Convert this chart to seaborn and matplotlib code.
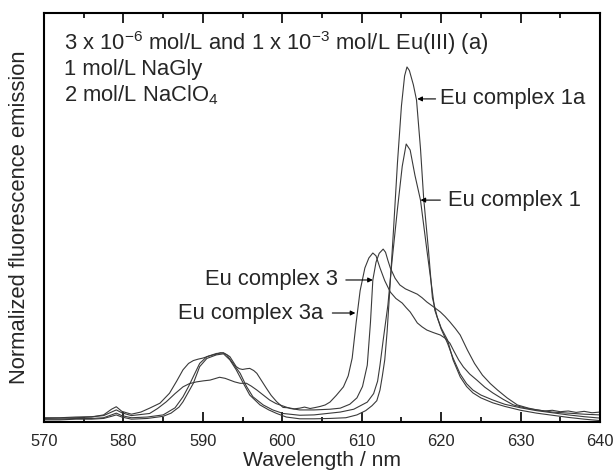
import matplotlib
matplotlib.use("Agg")
import matplotlib.pyplot as plt
import seaborn as sns
import pandas as pd
from matplotlib.ticker import MultipleLocator

# wavelength (nm) / normalized emission
wl_1a = [570, 572, 574, 576, 577.5, 578.5, 579.1, 579.8, 581, 583, 585, 586, 587, 587.5, 588.2, 588.8,
         589.6, 590.5, 591.7, 592.6, 593.4, 594.2, 595.1, 595.9, 597.2, 598.3, 599.3, 600.5, 602.2, 604,
         606, 608, 609.4, 610.5, 611.3, 611.9, 612.3, 612.6, 612.9, 613.2, 613.5, 614.0, 614.5, 615.0,
         615.4, 615.7, 616.0, 616.5, 616.9, 617.4, 617.8, 618.4, 618.9, 619.5, 620.0, 620.8, 621.5, 622.4,
         623.2, 624.0, 625.0, 626.5, 628, 630, 632, 634, 636, 638, 640]
em_1a = [0.006, 0.006, 0.008, 0.008, 0.010, 0.016, 0.020, 0.014, 0.008, 0.010, 0.016, 0.025, 0.042, 0.057, 0.085, 0.109,
         0.156, 0.179, 0.189, 0.192, 0.175, 0.147, 0.109, 0.076, 0.048, 0.034, 0.024, 0.014, 0.009, 0.009,
         0.010, 0.012, 0.020, 0.032, 0.046, 0.060, 0.090, 0.130, 0.175, 0.255, 0.360, 0.540, 0.730, 0.890,
         0.975, 1.000, 0.990, 0.950, 0.907, 0.770, 0.630, 0.485, 0.350, 0.296, 0.265, 0.231, 0.175, 0.127,
         0.100, 0.082, 0.068, 0.054, 0.044, 0.033, 0.025, 0.019, 0.013, 0.008, 0.004]

wl_1 = [570, 572, 574, 576, 577.5, 578.5, 579.1, 579.8, 581, 583, 585, 586.5, 587.5, 588.2, 588.8, 589.6,
        590.5, 591.7, 592.6, 593.0, 593.8, 594.7, 595.5, 596.3, 597.6, 598.8, 600.1, 602.2, 604, 607.3,
        609, 610.7, 611.5, 612.0, 612.3, 612.7, 613.3, 613.8, 614.5, 615.1, 615.6, 616.1, 616.7, 617.4,
        618.2, 619.2, 620.0, 620.8, 621.5, 622.4, 623.2, 624.0, 625, 626.5, 628, 630, 632, 634, 636, 638, 640]
em_1 = [0.008, 0.008, 0.010, 0.010, 0.012, 0.020, 0.025, 0.018, 0.012, 0.014, 0.020, 0.040, 0.071, 0.100, 0.128, 0.165,
        0.184, 0.193, 0.195, 0.189, 0.165, 0.137, 0.100, 0.071, 0.048, 0.034, 0.024, 0.019, 0.020, 0.028,
        0.036, 0.056, 0.080, 0.115, 0.160, 0.230, 0.330, 0.450, 0.600, 0.720, 0.783, 0.766, 0.695, 0.625,
        0.485, 0.315, 0.262, 0.222, 0.180, 0.135, 0.108, 0.090, 0.076, 0.062, 0.050, 0.040, 0.032, 0.026, 0.020, 0.015, 0.011]

wl_3 = [570, 572, 574, 576, 577.5, 578.5, 579.1, 579.8, 581, 583.3, 584.3, 585.4, 586.5, 587.5, 588.3, 589.2,
        590.1, 590.9, 591.5, 592.1, 592.8, 593.4, 594.0, 594.7, 595.5, 596.1, 596.8, 597.6, 598.4, 599.2,
        600.1, 601, 602.2, 604, 606, 607.3, 608.5, 609.4, 610.1, 610.7, 611.1, 611.4, 611.8, 612.2, 612.7,
        613.0, 613.3, 613.6, 614.2, 614.8, 615.5, 616.2, 617.0, 617.6, 618.2, 619.0, 619.9, 620.5, 621.1,
        621.8, 622.4, 623.3, 624.2, 625.2, 626.2, 627.1, 628.3, 629.6, 631, 632.1, 634, 636, 638, 640]
em_3 = [0.012, 0.012, 0.014, 0.015, 0.018, 0.028, 0.034, 0.026, 0.018, 0.024, 0.038, 0.057, 0.080, 0.099, 0.108, 0.113,
        0.116, 0.118, 0.122, 0.126, 0.123, 0.118, 0.113, 0.109, 0.109, 0.101, 0.090, 0.076, 0.062, 0.052,
        0.045, 0.038, 0.034, 0.034, 0.036, 0.039, 0.050, 0.068, 0.100, 0.160, 0.280, 0.400, 0.450, 0.475, 0.487,
        0.478, 0.455, 0.434, 0.405, 0.386, 0.375, 0.368, 0.360, 0.350, 0.338, 0.325, 0.310, 0.297, 0.282,
        0.263, 0.245, 0.203, 0.165, 0.132, 0.108, 0.090, 0.068, 0.048, 0.039, 0.034, 0.028, 0.025, 0.022, 0.020]

wl_3a = [570, 572, 574, 576, 577.5, 578.5, 579.1, 579.8, 581, 582.2, 583.3, 584.6, 585.8, 586.7, 587.5, 588.2,
         588.8, 589.4, 590.0, 590.8, 591.7, 592.2, 592.6, 593.0, 593.4, 593.8, 594.2, 594.6, 595.0, 595.5,
         595.9, 596.4, 596.8, 597.4, 598.0, 598.6, 599.3, 600.1, 600.8, 601.5, 602.2, 602.8, 603.5, 604.2,
         604.8, 605.4, 606.0, 606.8, 607.7, 608.3, 608.8, 609.3, 609.8, 610.4, 610.9, 611.4, 611.8, 612.3,
         612.9, 613.6, 614.3, 615.1, 615.6, 616.1, 616.6, 617.0, 617.6, 618.2, 619.0, 619.9, 620.5, 621.1,
         621.6, 622.2, 622.8, 623.6, 624.5, 625.5, 626.5, 627.8, 629.1, 630.5, 631.4, 632.1, 633, 634, 635,
         636, 637, 638, 639, 640]
em_3a = [0.010, 0.011, 0.012, 0.014, 0.020, 0.036, 0.043, 0.030, 0.022, 0.028, 0.039, 0.053, 0.081, 0.115, 0.147, 0.165,
         0.173, 0.177, 0.180, 0.186, 0.191, 0.195, 0.194, 0.190, 0.184, 0.170, 0.156, 0.150, 0.148, 0.150,
         0.151, 0.145, 0.137, 0.116, 0.095, 0.075, 0.057, 0.041, 0.040, 0.037, 0.039, 0.042, 0.038, 0.041,
         0.044, 0.048, 0.056, 0.075, 0.099, 0.130, 0.180, 0.280, 0.370, 0.434, 0.462, 0.476, 0.468, 0.434,
         0.398, 0.366, 0.348, 0.335, 0.322, 0.310, 0.293, 0.279, 0.268, 0.259, 0.252, 0.245, 0.236, 0.222,
         0.200, 0.175, 0.155, 0.135, 0.118, 0.098, 0.082, 0.064, 0.048, 0.040, 0.036, 0.034, 0.031, 0.033, 0.029,
         0.031, 0.027, 0.030, 0.026, 0.028]

curves = {"Eu complex 1a": (wl_1a, em_1a), "Eu complex 1": (wl_1, em_1),
          "Eu complex 3": (wl_3, em_3), "Eu complex 3a": (wl_3a, em_3a)}

sns.set_style("ticks")
plt.rcParams['font.family'] = ['Liberation Sans', 'DejaVu Sans']
plt.rcParams['mathtext.fontset'] = 'custom'
plt.rcParams['mathtext.rm'] = 'Liberation Sans'
plt.rcParams['mathtext.it'] = 'Liberation Sans:italic'

fig = plt.figure(figsize=(6.13, 4.75), dpi=100)
ax = fig.add_axes([44 / 613, 1 - 422 / 475, 556 / 613, 409 / 475])

for name, (wl, em) in curves.items():
    df = pd.DataFrame({"wl": wl, "em": em})
    sns.lineplot(data=df, x="wl", y="em", ax=ax, color="#3a3a3a", lw=0.8, sort=False, estimator=None)

ax.set_xlim(570, 640)
ax.set_ylim(0, 1.152)
ax.xaxis.set_major_locator(MultipleLocator(10))
ax.xaxis.set_minor_locator(MultipleLocator(5))
ax.set_yticks([])
ax.tick_params(axis='x', which='both', direction='in', top=True, bottom=True, width=1.2, color='black',
               labelsize=11.8, pad=9)
ax.tick_params(axis='x', which='major', length=7)
ax.tick_params(axis='x', which='minor', length=3.5)
for sp in ax.spines.values():
    sp.set_linewidth(1.5)
    sp.set_color('black')

ax.set_xlabel("Wavelength / nm", fontsize=15.2, labelpad=1)
ax.set_ylabel("Normalized fluorescence emission", fontsize=15.8, labelpad=10)

# header text
ax.text(572.5, 1.068, "3 x 10$^{-6}$ mol/L and 1 x 10$^{-3}$ mol/L Eu(III) (a)", fontsize=15.8, va='center')
ax.text(572.5, 0.992, "1 mol/L NaGly", fontsize=15.8, va='center')
ax.text(572.5, 0.921, "2 mol/L NaClO$_4$", fontsize=15.8, va='center')

# curve labels
arrow = dict(arrowstyle='-|>', lw=0.8, color='black', mutation_scale=7, shrinkA=0, shrinkB=0)
ax.text(619.9, 0.910, "Eu complex 1a", fontsize=15.8, va='center', ha='left')
ax.annotate('', xy=(617.0, 0.910), xytext=(619.3, 0.910), arrowprops=arrow)
ax.text(620.9, 0.625, "Eu complex 1", fontsize=15.8, va='center', ha='left')
ax.annotate('', xy=(617.4, 0.625), xytext=(619.9, 0.625), arrowprops=arrow)
ax.text(607.0, 0.400, "Eu complex 3", fontsize=15.8, va='center', ha='right')
ax.annotate('', xy=(611.4, 0.400), xytext=(608.0, 0.400), arrowprops=arrow)
ax.text(605.1, 0.307, "Eu complex 3a", fontsize=15.8, va='center', ha='right')
ax.annotate('', xy=(609.2, 0.307), xytext=(606.3, 0.307), arrowprops=arrow)

fig.savefig("out.png", dpi=100)
